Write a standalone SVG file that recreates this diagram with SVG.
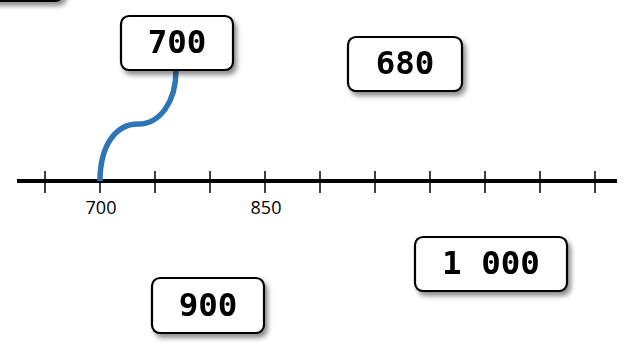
<svg xmlns="http://www.w3.org/2000/svg" width="627" height="344" viewBox="0 0 627 344">
<defs>
<filter id="sh" x="-20%" y="-30%" width="150%" height="170%">
<feGaussianBlur in="SourceAlpha" stdDeviation="2.5"/>
<feOffset dx="3" dy="4" result="b"/>
<feComponentTransfer><feFuncA type="linear" slope="0.45"/></feComponentTransfer>
<feMerge><feMergeNode/><feMergeNode in="SourceGraphic"/></feMerge>
</filter>
</defs>
<style>
.box{fill:#fff;stroke:#000;stroke-width:2.2}
.val{font-family:"DejaVu Sans Mono",monospace;font-weight:bold;font-size:32.5px;text-anchor:middle;fill:#000}
.tick{stroke:#000;stroke-width:1.5}
.lbl{font-family:"Open Sans",sans-serif;font-size:18px;text-anchor:middle;fill:#000}
</style>
<rect width="627" height="344" fill="#fff"/>
<g id="node-top" filter="url(#sh)"><rect class="box" x="-60" y="-50" width="123" height="51" rx="8"/></g>
<g id="axis">
<line x1="17" y1="181" x2="617" y2="181" stroke="#000" stroke-width="4"/>
<line class="tick" x1="45" y1="171" x2="45" y2="193"/>
<line class="tick" x1="100" y1="171" x2="100" y2="193"/>
<line class="tick" x1="155" y1="171" x2="155" y2="193"/>
<line class="tick" x1="210" y1="171" x2="210" y2="193"/>
<line class="tick" x1="265" y1="171" x2="265" y2="193"/>
<line class="tick" x1="320" y1="171" x2="320" y2="193"/>
<line class="tick" x1="375" y1="171" x2="375" y2="193"/>
<line class="tick" x1="430" y1="171" x2="430" y2="193"/>
<line class="tick" x1="485" y1="171" x2="485" y2="193"/>
<line class="tick" x1="540" y1="171" x2="540" y2="193"/>
<line class="tick" x1="595" y1="171" x2="595" y2="193"/>
<text class="lbl" x="101" y="214">700</text>
<text class="lbl" x="266" y="214">850</text>
</g>
<g id="connectors">
<path d="M100,181 C100,145 116,124 138,124 C160,124 176,102 176,70" fill="none" stroke="#2f75b5" stroke-width="5.5"/>
</g>
<g id="node-700" filter="url(#sh)"><rect class="box" x="121" y="16" width="112" height="54" rx="8"/><text class="val" x="177" y="52.5">700</text></g>
<g id="node-680" filter="url(#sh)"><rect class="box" x="348" y="37" width="114" height="54" rx="8"/><text class="val" x="405" y="73.5">680</text></g>
<g id="node-900" filter="url(#sh)"><rect class="box" x="152" y="278" width="112" height="55" rx="8"/><text class="val" x="208" y="315.5">900</text></g>
<g id="node-1000" filter="url(#sh)"><rect class="box" x="415" y="237" width="152" height="54" rx="8"/><text class="val" x="491" y="273.5">1 000</text></g>
</svg>
